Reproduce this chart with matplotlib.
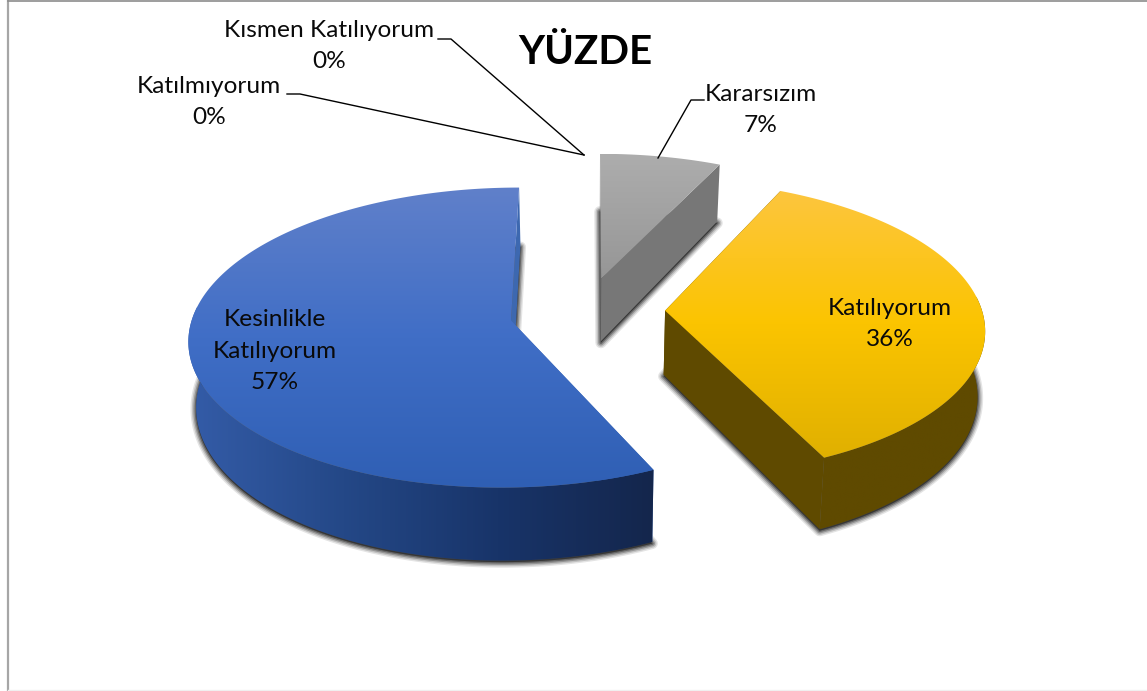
#-*- coding:utf-8 -*-
import numpy as np
import matplotlib
matplotlib.use('Agg')
from matplotlib import pyplot as plt
from matplotlib.patches import Polygon

names = ['Kararsızım', 'Katılıyorum', 'Kesinlikle\nKatılıyorum', 'Katılmıyorum', 'Kısmen Katılıyorum']
shares = [7, 36, 57, 0, 0]

# apex of each slice on the pie plane (exploded)
apex_x = [0.036, 0.237, -0.2475, 0, 0]
apex_y = [0.20, -0.025, -0.0915, 0, 0]

# top face gradient stops (top to bottom)
top_cols = [
    [(173,173,173), (150,150,150)],
    [(253,198,62), (251,196,0), (224,176,0)],
    [(96,128,202), (64,110,198), (47,95,180)],
]
wall_cols = [
    [(118,118,118), (118,118,118)],
    [(95,74,0), (95,74,0)],
    [(52,92,168), (36,72,135), (24,52,105), (20,38,76)],
]
side_cols = ['#777777', '#5f4a00', '#3d68b0']

label_pos = [(761,110), (890,324), (275,351), (209,102), (329,46)]

# projection of the pie plane
xc, yc = 590, 307
bx, by = 316, 145
k = 0.1133
depth = 64

def proj(X, Y, down=0):
    s = 1 / (1 + k * Y)
    # bottom plane is a bit narrower, further from the eye
    return xc + bx * X * s * (1 - 0.0003 * down), yc - by * Y * s + down * s

def arc(i, a0, a1):
    t = np.radians(np.linspace(a0, a1, 200))
    return apex_x[i] + np.sin(t), apex_y[i] + np.cos(t)

def pts(X, Y, down=0):
    x, y = proj(np.asarray(X, float), np.asarray(Y, float), down)
    return np.column_stack([x, y])

def grad(ax, poly_pts, cols, vertical=True):
    cols = np.array(cols, float) / 255
    n = 256
    pos = np.linspace(0, 1, len(cols))
    g = np.column_stack([np.interp(np.linspace(0, 1, n), pos, cols[:, c]) for c in range(3)])
    img = g[:, None, :] if vertical else g[None, :, :]
    x0, y0 = poly_pts.min(axis=0)
    x1, y1 = poly_pts.max(axis=0)
    im = ax.imshow(img, extent=(x0, x1, y1, y0), aspect='auto', interpolation='bilinear', zorder=ax.zo)
    p = Polygon(poly_pts, closed=True, fc='none', ec='none', transform=ax.transData)
    ax.add_patch(p)
    im.set_clip_path(p)
    ax.zo += 1

fig = plt.figure(figsize=(11.47, 6.91), dpi=100)
ax = fig.add_axes([0, 0, 1, 1])
ax.zo = 2
plt.rcParams['font.family'] = ['Lato', 'DejaVu Sans']

order = [0, 2, 1]
edges = np.concatenate([[0], np.cumsum(shares)]) * 3.6

for i in order:
    a0, a1 = edges[i], edges[i + 1]
    X, Y = arc(i, a0, a1)
    px, py = apex_x[i], apex_y[i]
    top = pts(np.r_[px, X], np.r_[py, Y])
    low = pts(np.r_[px, X], np.r_[py, Y], depth)
    # soft shadow under the slice
    for lw, al in [(8, .12), (6, .18), (4, .28), (2, .4)]:
        ax.add_patch(Polygon(low + [0, 1.5], closed=True, fc='#222222', ec='#222222', lw=lw, alpha=al,
                             joinstyle='round', zorder=ax.zo))
    ax.zo += 1
    # cut walls
    for ang in (a0, a1):
        ex, ey = arc(i, ang, ang)
        wall = np.vstack([pts([px, ex[0]], [py, ey[0]]), pts([ex[0], px], [ey[0], py], depth)])
        ax.add_patch(Polygon(wall, closed=True, fc=side_cols[i], ec='none', zorder=ax.zo))
    ax.zo += 1
    # outer wall, front part only
    front = (Y - py) < 0.1
    if front.any():
        wall = np.vstack([pts(X[front], Y[front]), pts(X[front][::-1], Y[front][::-1], depth)])
        grad(ax, wall, wall_cols[i], vertical=False)
    # top face
    grad(ax, top, top_cols[i])

# leader lines
ax.plot([438, 451, 584], [39, 39, 155], color='k', lw=1, zorder=50)
ax.plot([287, 300, 584], [94, 94, 155], color='k', lw=1, zorder=50)
ax.plot([704, 691, 658], [100, 100, 158], color='k', lw=1, zorder=50)

for n, v, (lx, ly) in zip(names, shares, label_pos):
    ax.text(lx, ly, '%s\n%d%%' % (n, v), ha='center', va='center', fontsize=17.6,
            color='#0a0a0a', linespacing=1.62, zorder=60)
ax.text(585, 52, 'YÜZDE', ha='center', va='center', fontsize=29, fontweight='bold', color='k', zorder=60)

# chart frame
ax.plot([8, 8], [0, 691], color='#a6a6a6', lw=1.6, zorder=40)
ax.plot([8, 1147], [0.5, 0.5], color='#8c8c8c', lw=1.2, zorder=40)
ax.plot([8, 1147], [690, 690], color='#f0f0f0', lw=1, zorder=40)

ax.set_xlim(0, 1147)
ax.set_ylim(691, 0)
ax.axis('off')
fig.savefig('out.png', dpi=100)
